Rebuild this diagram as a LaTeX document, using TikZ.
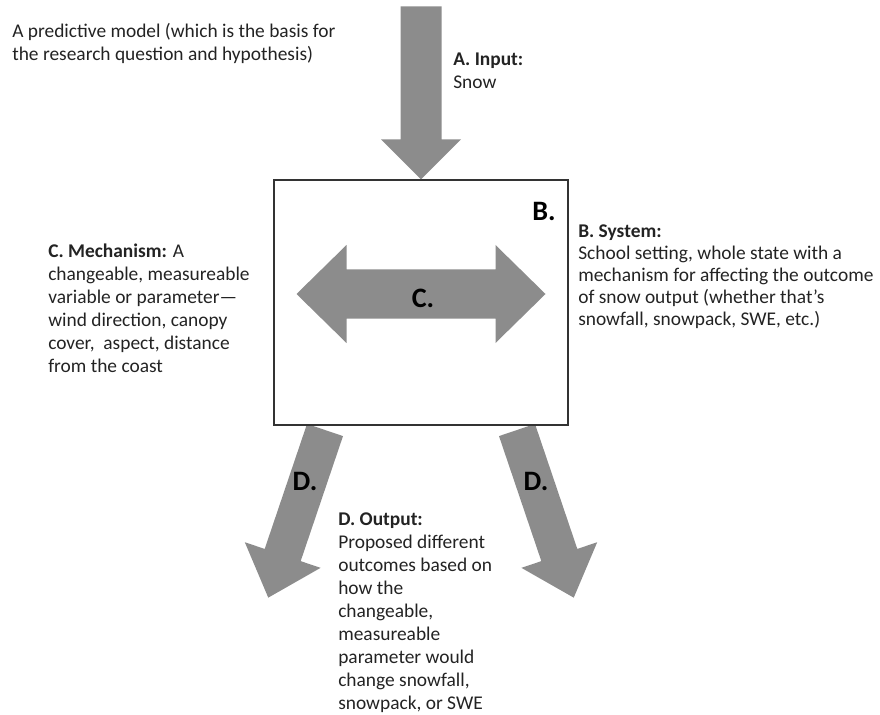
\documentclass[tikz,border=0pt]{standalone}
\usepackage{fontspec}
\setmainfont{Carlito}
\definecolor{arrowgray}{RGB}{140,140,140}
\definecolor{textgray}{RGB}{35,35,35}
\tikzset{
  txt/.style={anchor=north west, align=left, inner sep=0pt, text=textgray,
    font=\fontsize{13.8}{16.35}\selectfont},
  lbl/.style={inner sep=0pt, text=black, font=\fontsize{20}{22}\selectfont\bfseries},
  blockarrow/.style={fill=arrowgray, draw=none}
}
\begin{document}
\begin{tikzpicture}[x=0.025cm, y=-0.025cm]
  \useasboundingbox (0,0) rectangle (880,715);
  % output arrows, drawn under the box
  \begin{scope}[shift={(325,430)}, rotate=-18.7]
    \fill[blockarrow] (-19,0) -- (19,0) -- (19,132) -- (40,132) -- (0,177)
      -- (-40,132) -- (-19,132) -- cycle;
  \end{scope}
  \begin{scope}[shift={(517,430)}, rotate=18.7]
    \fill[blockarrow] (-19,0) -- (19,0) -- (19,132) -- (40,132) -- (0,177)
      -- (-40,132) -- (-19,132) -- cycle;
  \end{scope}
  \node (system) [draw=black!80, line width=0.9pt, fill=white, inner sep=0pt,
    minimum width=7.35cm, minimum height=6.125cm] at (421,302.5) {};
  % input arrow
  \begin{scope}[shift={(system.north)}]
    \fill[blockarrow] (-20.5,-173) -- (20.5,-173) -- (20.5,-40) -- (40,-40)
      -- (0,0) -- (-40,-40) -- (-20.5,-40) -- cycle;
  \end{scope}
  % mechanism arrow
  \begin{scope}[shift={(system.center)}]
    \fill[blockarrow] (-124.5,-8.5) -- (-74.5,-57.5) -- (-74.5,-33) -- (74.5,-33)
      -- (74.5,-57.5) -- (124.5,-8.5) -- (74.5,40.5) -- (74.5,16) -- (-74.5,16)
      -- (-74.5,40.5) -- cycle;
  \end{scope}
  \node (b) [lbl] at (544,211) {B.};
  \node (c) [lbl] at (423,298) {C.};
  \node (d1) [lbl] at (305,481) {D.};
  \node (d2) [lbl] at (536,481) {D.};
  % texts (first baseline 16px below the node top)
  \node (model) [txt] at (12,21) {\strut A predictive model (which is the basis for\\
    the research question and hypothesis)};
  \node (input) [txt] at (453,49) {\strut\textbf{A. Input:}\\Snow};
  \node (sys) [txt, font=\fontsize{13.8}{15.64}\selectfont] at (578,222)
    {\strut\textbf{B. System:}\\
    School setting, whole state with a\\
    mechanism for affecting the outcome\\
    of snow output (whether that’s\\
    snowfall, snowpack, SWE, etc.)};
  \node (mech) [txt] at (48,241) {\strut\textbf{C. Mechanism:} A\\
    changeable, measureable\\
    variable or parameter---\\
    wind direction, canopy\\
    cover,\ \ aspect, distance\\
    from the coast};
  \node (out) [txt] at (338,509) {\strut\textbf{D. Output:}\\
    Proposed different\\
    outcomes based on\\
    how the\\
    changeable,\\
    measureable\\
    parameter would\\
    change snowfall,\\
    snowpack, or SWE};
\end{tikzpicture}
\end{document}
